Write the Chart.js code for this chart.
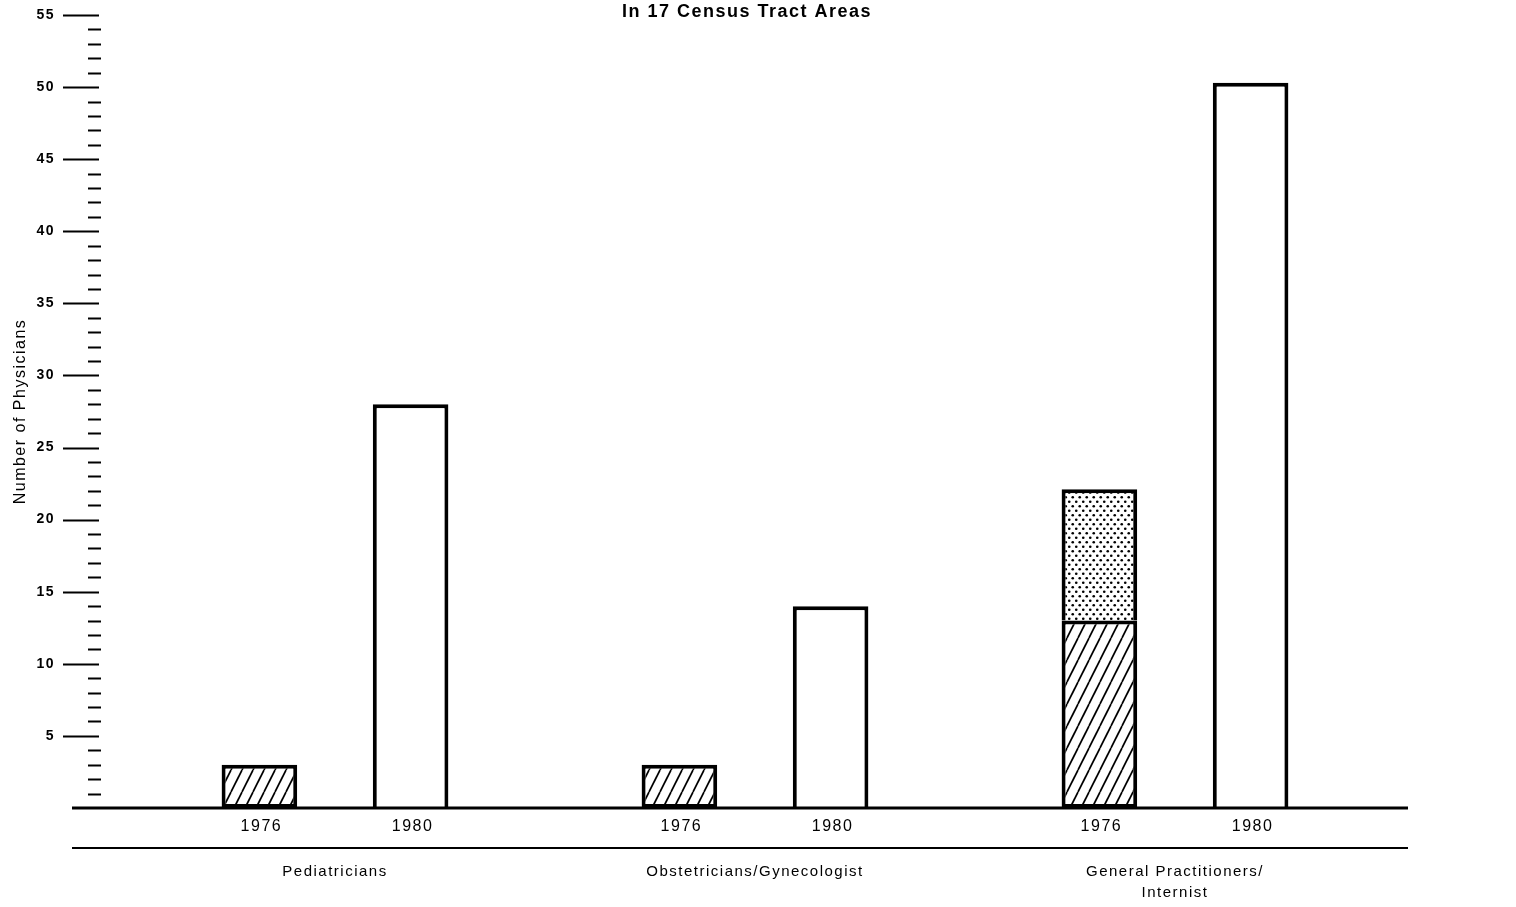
<!DOCTYPE html>
<html><head><meta charset="utf-8">
<script src="https://cdn.jsdelivr.net/npm/chart.js@4"></script>
<style>html,body{margin:0;padding:0;background:#fff;} #wrap{width:1516px;height:907px;}</style>
</head><body><div id="wrap"><canvas id="c" width="1516" height="907"></canvas></div>
<script>
const titleText = 'In 17 Census Tract Areas';
const yAxisTitle = 'Number of Physicians';
const categories = ['Pediatricians', 'Obstetricians/Gynecologist', ['General Practitioners/', 'Internist']];
const years = ['1976', '1980'];
const hatched1976 = [3, 3, 13];
const dotted1976 = [null, null, 9.1];
const values1980 = [28, 14, 50.3];
const yMin = 0, yMax = 55, yMajorStep = 5, yMinorStep = 1;

const FONT = '"Liberation Sans", Arial, Helvetica, sans-serif';
Chart.defaults.font.family = FONT;
Chart.defaults.color = '#000';

const canvas = document.getElementById('c');
const mainCtx = canvas.getContext('2d');

function hatchPattern() {
  const w = 11, h = 22;
  const c = document.createElement('canvas'); c.width = w; c.height = h;
  const g = c.getContext('2d');
  g.fillStyle = '#fff'; g.fillRect(0, 0, w, h);
  g.strokeStyle = '#000'; g.lineWidth = 1.7;
  for (const dx of [-w, 0, w]) { g.beginPath(); g.moveTo(dx, h); g.lineTo(dx + w, 0); g.stroke(); }
  return mainCtx.createPattern(c, 'repeat');
}
function dotPattern() {
  const w = 7, h = 9;
  const c = document.createElement('canvas'); c.width = w; c.height = h;
  const g = c.getContext('2d');
  g.fillStyle = '#fff'; g.fillRect(0, 0, w, h);
  g.fillStyle = '#000';
  for (const [px, py] of [[1.75, 2.25], [5.25, 6.75]]) { g.beginPath(); g.arc(px, py, 1.3, 0, Math.PI * 2); g.fill(); }
  return mainCtx.createPattern(c, 'repeat');
}

const decor = {
  id: 'decor',
  beforeDraw(chart) { chart.ctx.letterSpacing = '1.5px'; },
  afterDraw(chart) {
    const { ctx, chartArea: a, scales: { x, y } } = chart;
    ctx.save();
    ctx.strokeStyle = '#000';
    const y0 = y.getPixelForValue(yMin);
    // baseline and lower rule
    ctx.lineWidth = 3;
    ctx.beginPath(); ctx.moveTo(a.left - 53, y0); ctx.lineTo(a.right + 23, y0); ctx.stroke();
    ctx.lineWidth = 2;
    ctx.beginPath(); ctx.moveTo(a.left - 53, y0 + 40); ctx.lineTo(a.right + 23, y0 + 40); ctx.stroke();
    // y axis tick marks
    for (let v = yMin + yMinorStep; v < yMax + 0.001; v += yMinorStep) {
      const py = Math.round(y.getPixelForValue(v)) + 0.5;
      ctx.beginPath();
      if (v % yMajorStep === 0) { ctx.lineWidth = 1.8; ctx.moveTo(a.left - 62, py); ctx.lineTo(a.left - 26, py); }
      else { ctx.lineWidth = 2; ctx.moveTo(a.left - 37, py); ctx.lineTo(a.left - 24, py); }
      ctx.stroke();
    }
    // year labels under bars
    ctx.fillStyle = '#000';
    ctx.letterSpacing = '1.5px';
    ctx.font = '16px ' + FONT;
    ctx.textAlign = 'center'; ctx.textBaseline = 'middle';
    const firstOfStack = [0, 2];
    firstOfStack.forEach((di, k) => {
      chart.getDatasetMeta(di).data.forEach(el => ctx.fillText(years[k], el.x + 2, y0 + 19));
    });
    // title
    ctx.letterSpacing = '1.5px';
    ctx.font = 'bold 18px ' + FONT;
    ctx.fillText(titleText, (a.left + a.right) / 2 - 8, 12);
    ctx.restore();
  }
};

new Chart(canvas, {
  type: 'bar',
  data: {
    labels: categories,
    datasets: [
      { label: years[0], data: hatched1976, stack: years[0], backgroundColor: hatchPattern(), borderColor: '#000', borderWidth: 4, borderSkipped: false },
      { label: years[0], data: dotted1976, stack: years[0], backgroundColor: dotPattern(), borderColor: '#000', borderWidth: 4, borderSkipped: 'start' },
      { label: years[1], data: values1980, stack: years[1], backgroundColor: '#fff', borderColor: '#000', borderWidth: 4, borderSkipped: 'start' }
    ]
  },
  options: {
    responsive: false,
    animation: false,
    layout: { padding: { top: 15, right: 131, bottom: 0, left: 0 } },
    plugins: { legend: { display: false }, tooltip: { enabled: false }, title: { display: false } },
    datasets: { bar: { categoryPercentage: 0.72, barPercentage: 0.5 } },
    scales: {
      x: {
        stacked: true,
        grid: { display: false, drawTicks: false },
        border: { display: false },
        ticks: { padding: 53.5, font: { size: 15, lineHeight: 1.4 }, color: '#000', maxRotation: 0, autoSkip: false },
        afterFit: s => { s.height = 99; s.paddingLeft = 0; s.paddingRight = 0; }
      },
      y: {
        stacked: true, min: yMin, max: yMax,
        grid: { display: false, drawTicks: false },
        border: { display: false },
        ticks: { stepSize: yMajorStep, padding: 70, color: '#000', font: { size: 14, weight: 'bold' },
                 callback: v => v === 0 ? '' : String(v) },
        title: { display: true, text: yAxisTitle, color: '#000', font: { size: 16 }, padding: { top: 11, bottom: 0 } },
        afterFit: s => { s.width = 125; s.paddingTop = 0; s.paddingBottom = 0; }
      }
    }
  },
  plugins: [decor]
});
</script>
</body></html>
